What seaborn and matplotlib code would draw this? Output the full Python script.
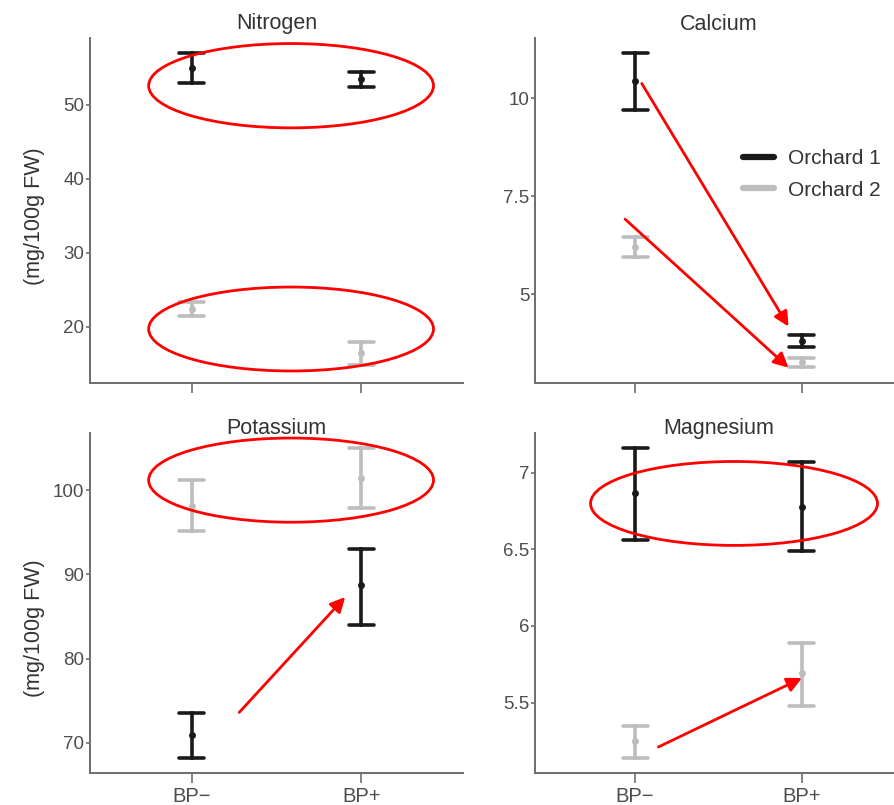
import matplotlib
matplotlib.use("Agg")
import matplotlib.pyplot as plt
from matplotlib.patches import Ellipse
from matplotlib.lines import Line2D
import seaborn as sns
import pandas as pd

# ---------------- data ----------------
treatments = ["BP\u2212", "BP+"]
orchards = ["Orchard 1", "Orchard 2"]

# per orchard: [BP-, BP+]
nitrogen_mean = [[55.0, 53.5], [22.4, 16.4]]
nitrogen_low = [[53.0, 52.4], [21.4, 14.9]]
nitrogen_high = [[57.0, 54.5], [23.4, 18.0]]

calcium_mean = [[10.44, 3.82], [6.20, 3.28]]
calcium_low = [[9.70, 3.67], [5.95, 3.16]]
calcium_high = [[11.15, 3.97], [6.46, 3.38]]

potassium_mean = [[70.9, 88.7], [98.1, 101.4]]
potassium_low = [[68.2, 84.0], [95.1, 97.9]]
potassium_high = [[73.5, 93.0], [101.2, 105.0]]

magnesium_mean = [[6.87, 6.78], [5.25, 5.69]]
magnesium_low = [[6.56, 6.49], [5.14, 5.48]]
magnesium_high = [[7.16, 7.07], [5.35, 5.89]]

titles = ["Nitrogen", "Calcium", "Potassium", "Magnesium"]
ylabel = "(mg/100g FW)"
yticks = [[20, 30, 40, 50], [5, 7.5, 10], [70, 80, 90, 100], [5.5, 6, 6.5, 7]]
yticklabels = [["20", "30", "40", "50"], ["5", "7.5", "10"],
               ["70", "80", "90", "100"], ["5.5", "6", "6.5", "7"]]
ylims = [(12.4, 59.05), (2.74, 11.54), (66.4, 106.8), (5.04, 7.26)]


def build_frame(mean, low, high):
    rows = []
    for oi, orch in enumerate(orchards):
        for ti, tr in enumerate(treatments):
            for v in (low[oi][ti], mean[oi][ti], high[oi][ti]):
                rows.append({"Treatment": tr, "Orchard": orch, "value": v})
    return pd.DataFrame(rows)


frames = [build_frame(nitrogen_mean, nitrogen_low, nitrogen_high),
          build_frame(calcium_mean, calcium_low, calcium_high),
          build_frame(potassium_mean, potassium_low, potassium_high),
          build_frame(magnesium_mean, magnesium_low, magnesium_high)]

# ---------------- style ----------------
sns.set_theme(style="ticks")
plt.rcParams["font.family"] = ["Liberation Sans", "DejaVu Sans"]
axis_col = "#6e6e6e"
text_col = "#4d4d4d"
palette = {"Orchard 1": "#1a1a1a", "Orchard 2": "#bdbdbd"}

W, H = 895, 805
fig = plt.figure(figsize=(W / 100, H / 100), dpi=100)

# axes boxes in pixels: (left, top, right, bottom)
boxes = [(90, 38, 463, 383), (535, 38, 902, 383),
         (90, 433, 463, 773), (535, 433, 902, 773)]
axes = []
for (l, t, r, b) in boxes:
    axes.append(fig.add_axes([l / W, 1 - b / H, (r - l) / W, (b - t) / H]))

for i, ax in enumerate(axes):
    sns.pointplot(data=frames[i], x="Treatment", y="value", hue="Orchard",
                  order=treatments, hue_order=orchards, palette=palette,
                  estimator="median", errorbar=("pi", 100), dodge=False,
                  linestyle="none", markers="o", markersize=5,
                  markeredgewidth=0,
                  capsize=0.15, err_kws={"linewidth": 2.6}, ax=ax)
    if ax.get_legend() is not None:
        ax.get_legend().remove()
    ax.set_xlim(-0.6, 1.6)
    ax.set_ylim(*ylims[i])
    ax.set_yticks(yticks[i])
    ax.set_yticklabels(yticklabels[i])
    ax.set_xlabel("")
    ax.set_ylabel("")
    sns.despine(ax=ax)
    for sp in ("left", "bottom"):
        ax.spines[sp].set_color(axis_col)
        ax.spines[sp].set_linewidth(1.4)
    ax.tick_params(axis="both", colors=axis_col, labelcolor=text_col,
                   labelsize=13.5, width=1.2)
    ax.tick_params(axis="y", length=3, pad=1)
    ax.tick_params(axis="x", length=7, pad=3)
    if i < 2:
        ax.set_xticklabels([])
    else:
        ax.set_xticklabels(treatments, fontsize=14.5)
    ty = 1 + 14 / 345 if i < 2 else 1 + 5 / 340
    ax.text(0.5, ty, titles[i], transform=ax.transAxes, ha="center",
            va="center", fontsize=15.5, color="#333333")

# y labels
fig.text(35 / W, 1 - 216 / H, ylabel, rotation=90, ha="center", va="center",
         fontsize=15.5, color="#333333")
fig.text(35 / W, 1 - 628 / H, ylabel, rotation=90, ha="center", va="center",
         fontsize=15.5, color="#333333")

# legend in Calcium panel
handles = [Line2D([0], [0], color=palette[o], lw=4.5) for o in orchards]
leg = axes[1].legend(handles, orchards, loc="upper left", frameon=False,
                     bbox_to_anchor=((743 - 535) / 367, 1 - (149 - 38) / 345),
                     fontsize=15, handlelength=1.5, handletextpad=0.65,
                     labelspacing=0.6, borderaxespad=0, borderpad=0)
for t in leg.get_texts():
    t.set_color("#333333")

# ---------------- red annotations ----------------
red = "#ff0000"


def ell(ax, xc, yc, w, h):
    ax.add_patch(Ellipse((xc, yc), w, h, fill=False, edgecolor=red,
                         linewidth=2.0, clip_on=False, zorder=10))


def arr(ax, x0, y0, x1, y1):
    ax.annotate("", xy=(x1, y1), xytext=(x0, y0),
                arrowprops=dict(arrowstyle="-|>", color=red, lw=2.0,
                                mutation_scale=22, shrinkA=0, shrinkB=0),
                zorder=10, annotation_clip=False)


ell(axes[0], 0.586, 52.6, 1.68, 11.4)
ell(axes[0], 0.586, 19.7, 1.68, 11.35)
arr(axes[1], 0.04, 10.38, 0.92, 4.18)
arr(axes[1], -0.06, 6.92, 0.92, 3.13)
ell(axes[2], 0.586, 101.2, 1.68, 10.0)
arr(axes[2], 0.28, 73.6, 0.905, 87.3)
ell(axes[3], 0.593, 6.80, 1.72, 0.548)
arr(axes[3], 0.14, 5.21, 1.0, 5.66)

fig.savefig("out.png", dpi=100)
